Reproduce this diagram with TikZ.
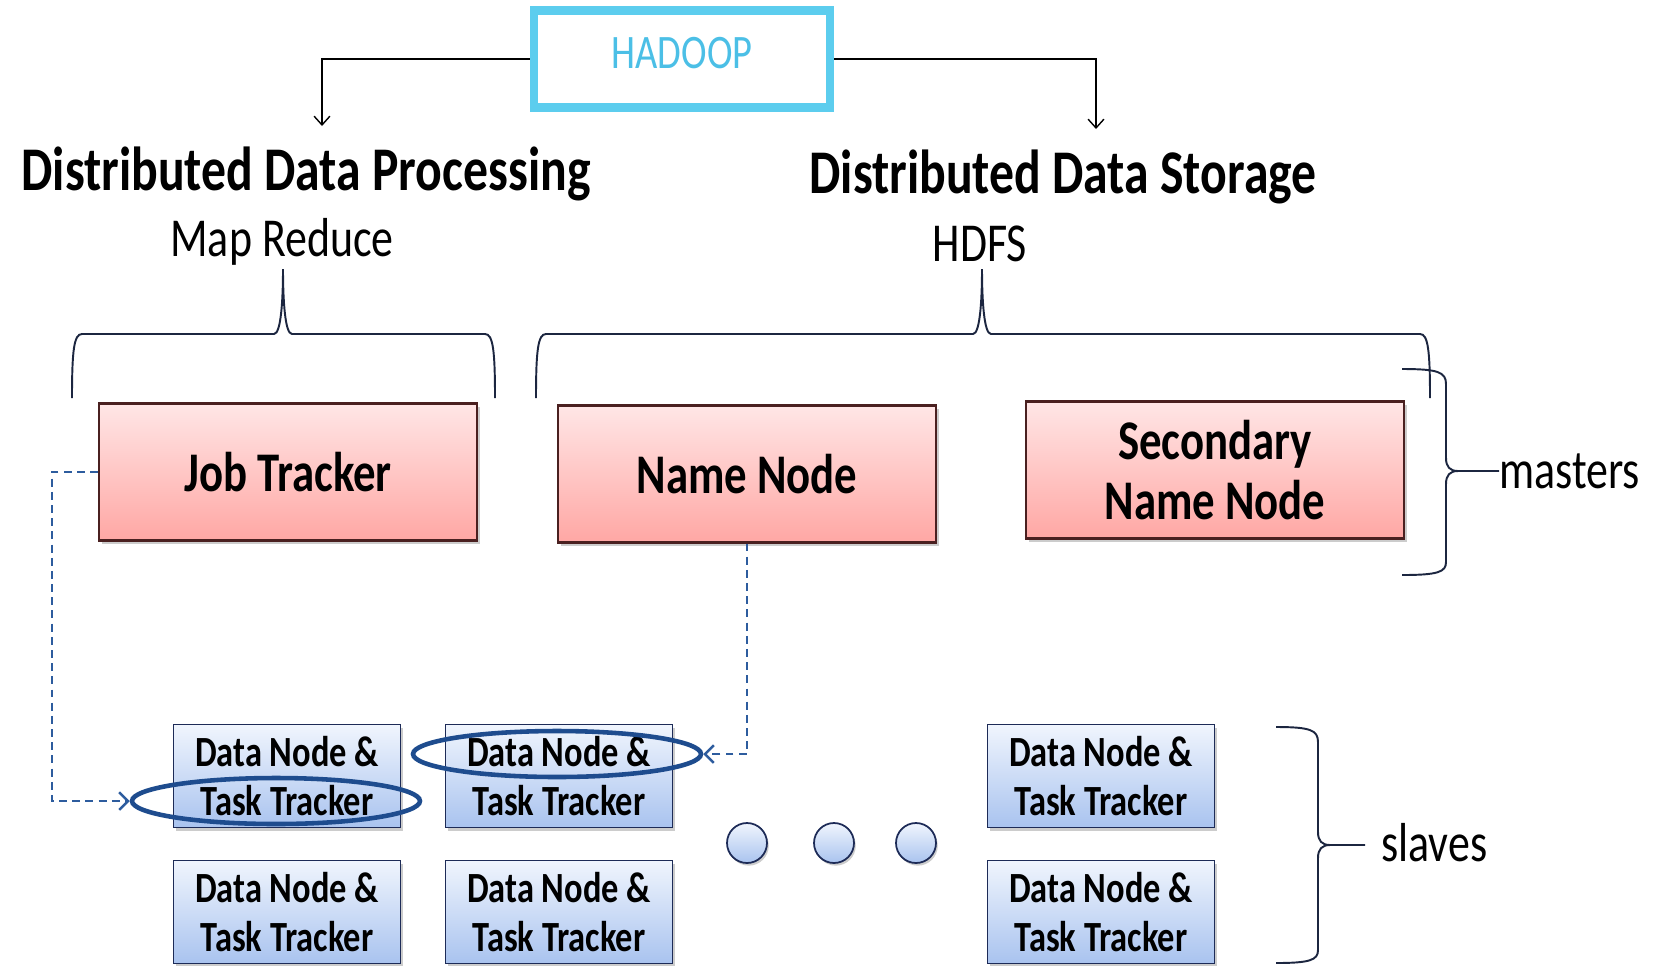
\documentclass[tikz,border=0pt]{standalone}
\usepackage{fontspec}
\setmainfont{Carlito}
\usetikzlibrary{shapes.geometric,shadows,arrows.meta,positioning}

\definecolor{hadoopcyan}{HTML}{5CCDEE}
\definecolor{hadooptext}{HTML}{4BBFE6}
\definecolor{pinktop}{HTML}{FFE6E6}
\definecolor{pinkbot}{HTML}{FFA7A4}
\definecolor{pinkedge}{HTML}{4A2020}
\definecolor{bluetop}{HTML}{F0F5FD}
\definecolor{bluebot}{HTML}{A9C3EF}
\definecolor{blueedge}{HTML}{1D2B57}
\definecolor{ringblue}{HTML}{1E4C8E}
\definecolor{dashblue}{HTML}{2D5C9E}
\definecolor{bracecol}{HTML}{1C2640}

% stretch text a little upwards
\newcommand{\tall}[1]{\scalebox{1}[1.25]{#1}}

\tikzset{
  master/.style={draw=pinkedge, line width=1.2pt, top color=pinktop, bottom color=pinkbot,
    minimum width=7.56cm, minimum height=2.74cm, align=center,
    font=\bfseries\fontsize{25.5}{34}\selectfont,
    drop shadow={shadow xshift=1.5pt, shadow yshift=-2pt, opacity=0.4}},
  slave/.style={draw=blueedge, line width=1pt, top color=bluetop, bottom color=bluebot,
    minimum width=4.54cm, minimum height=2.06cm, align=center,
    font=\bfseries\fontsize{19.6}{27.5}\selectfont,
    drop shadow={shadow xshift=1.5pt, shadow yshift=-2pt, opacity=0.4}},
  ring/.style={ellipse, draw=ringblue, line width=2.6pt, minimum width=5.76cm,
    minimum height=0.92cm, inner sep=0pt},
  dot/.style={circle, draw=blueedge, line width=1pt, top color=bluetop, bottom color=bluebot,
    minimum size=0.8cm, inner sep=0pt,
    drop shadow={shadow xshift=1pt, shadow yshift=-1.5pt, opacity=0.4}},
  heading/.style={font=\bfseries\fontsize{28.3}{34}\selectfont, inner sep=0pt},
  tag/.style={font=\fontsize{25}{30}\selectfont, inner sep=0pt},
  brace line/.style={draw=bracecol, line width=1.1pt},
  link/.style={dashblue, line width=1.4pt, dash pattern=on 4.5pt off 3pt,
    -{Straight Barb[length=5pt,width=10pt]}},
  feed/.style={line width=0.8pt, -{Straight Barb[length=5pt,width=9pt]}},
}

\begin{document}
\begin{tikzpicture}[x=0.02cm, y=-0.02cm]
\useasboundingbox (0,0) rectangle (1653,965);

% top box
\node[draw=hadoopcyan, line width=5pt, minimum width=5.92cm, minimum height=1.94cm,
  text=hadooptext, font=\fontsize{21.9}{26}\selectfont] (hadoop) at (682,59)
  {\raisebox{6.5pt}{\tall{HADOOP}}};

\node[heading] (proc) at (306,174) {\tall{Distributed Data Processing}};
\node[heading] (stor) at (1063,177) {\tall{Distributed Data Storage}};
\node[tag] (mapred) at (282,242) {\tall{Map Reduce}};
\node[tag] (hdfs) at (980,244) {\tall{HDFS}};

\coordinate (procin) at (322,126);
\coordinate (storin) at (1096,129);
\draw[feed] (hadoop.west) -| (procin);
\draw[feed] (hadoop.east) -| (storin);

% braces under the two halves
\path[brace line] (72,398) .. controls (72,350) and (74,334) .. (82,334) -- (274,334)
  .. controls (281,334) and (283,300) .. (283,269)
  .. controls (283,300) and (285,334) .. (292,334) -- (485,334)
  .. controls (493,334) and (495,350) .. (495,398);
\path[brace line] (536,398) .. controls (536,350) and (538,334) .. (546,334) -- (973,334)
  .. controls (980,334) and (982,300) .. (982,269)
  .. controls (982,300) and (984,334) .. (991,334) -- (1420,334)
  .. controls (1428,334) and (1430,350) .. (1430,398);

% masters
\node[master] (jt) at (288,472) {\tall{Job Tracker}};
\node[master] (nn) at (747,474) {\tall{Name Node}};
\node[master] (snn) at (1215,470) {\tall{Secondary}\\\tall{Name Node}};

% slaves
\foreach \x [count=\n] in {287,559,1101}
  \foreach \y [count=\m] in {776,912}
    \node[slave] (dn\n\m) at (\x,\y) {\tall{Data Node \&}\\\tall{Task Tracker}};

\node[ring] (ring1) at (276,801) {};
\node[ring] (ring2) at (557,754) {};

\foreach \x [count=\n] in {747,834,916}
  \node[dot] (gap\n) at (\x,843) {};

\draw[link] (jt.west) -- ++(-46,0) |- (ring1.west);
\draw[link] (nn.south) |- (ring2.east);

% side braces
\node[tag, anchor=west] (mst) at (1499,471) {\tall{masters}};
\node[tag, anchor=west] (slv) at (1381,843) {\tall{slaves}};
\coordinate (slvtip) at (1365,845);

\path[brace line] (1402,369) .. controls (1438,369) and (1446,372) .. (1446,384) -- (1446,458)
  .. controls (1446,467) and (1450,471) .. (1458,471) -- (mst.west);
\path[brace line] (1458,471) .. controls (1450,471) and (1446,475) .. (1446,484) -- (1446,562)
  .. controls (1446,572) and (1438,575) .. (1402,575);
\path[brace line] (1276,727) .. controls (1310,727) and (1318,730) .. (1318,742) -- (1318,832)
  .. controls (1318,841) and (1322,845) .. (1330,845) -- (slvtip);
\path[brace line] (1330,845) .. controls (1322,845) and (1318,849) .. (1318,858) -- (1318,950)
  .. controls (1318,960) and (1310,963) .. (1276,963);
\end{tikzpicture}
\end{document}
